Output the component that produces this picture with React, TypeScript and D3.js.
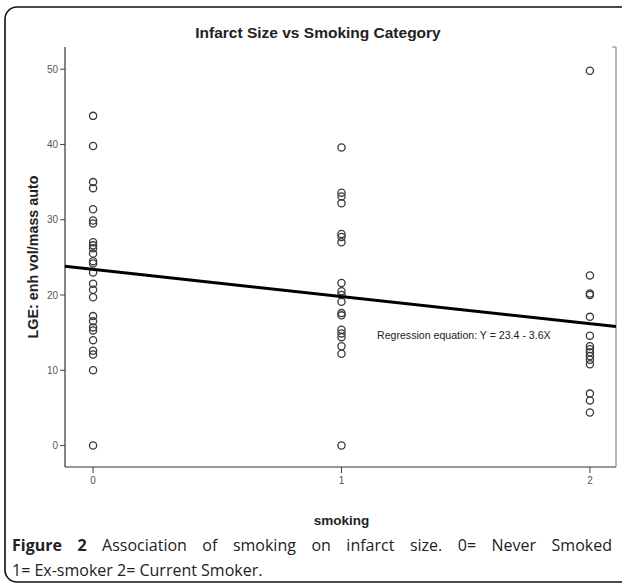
import React, { useLayoutEffect, useRef, useState } from "react";
import * as d3 from "d3";

const smokingCategories = [0, 1, 2];
const neverSmoked = [43.8, 39.8, 35.0, 34.2, 31.4, 29.9, 29.5, 27.0, 26.6, 26.2, 25.5, 24.5, 24.2, 23.0, 21.5, 20.7, 19.7, 17.2, 16.5, 15.7, 15.3, 14.0, 12.6, 12.1, 10.0, 0.0];
const exSmoker = [39.6, 33.6, 33.1, 32.2, 28.1, 27.7, 27.0, 21.6, 20.5, 20.0, 19.1, 17.6, 17.3, 15.4, 14.9, 14.4, 13.2, 12.2, 0.0];
const currentSmoker = [49.8, 22.6, 20.2, 20.0, 17.1, 14.6, 13.2, 12.8, 12.4, 11.9, 11.4, 10.8, 6.9, 6.0, 4.4];
const yTicks = [0, 10, 20, 30, 40, 50];
const regIntercept = 23.4;
const regSlope = -3.6;

export default function App() {
  const W = 622, H = 585;
  const left = 65, right = 616, top = 47, bottom = 467;
  const x = d3.scaleLinear().domain([-0.113, 2.105]).range([left, right]);
  const y = d3.scaleLinear().domain([-2.85, 52.95]).range([bottom, top]);
  const groups = [neverSmoked, exSmoker, currentSmoker];
  const points = groups.flatMap((g, i) => g.map((v) => ({ c: smokingCategories[i], v })));
  const [x0, x1] = x.domain();
  const line = d3.line<number>().x((d) => x(d)).y((d) => y(regIntercept + regSlope * d));
  const axisFont = "'Liberation Sans', Arial, sans-serif";
  const capRef = useRef<SVGTextElement>(null);
  const [ws, setWs] = useState(0);
  useLayoutEffect(() => {
    if (capRef.current && ws === 0) {
      const len = capRef.current.getComputedTextLength();
      setWs(Math.max(0.01, (600 - len) / 10));
    }
  }, [ws]);
  return (
    <svg width={W} height={H} style={{ position: "absolute", left: 0, top: 0, background: "#fff" }}>
      <rect x={5} y={7} width={640} height={575} rx={12} fill="#fff" stroke="#111" strokeWidth={1.6} />
      <text x={318} y={38} textAnchor="middle" fontFamily={axisFont} fontWeight="bold" fontSize={15.5} fill="#222">
        Infarct Size vs Smoking Category
      </text>
      <line x1={left} x2={left} y1={top} y2={bottom} stroke="#333" strokeWidth={1.2} />
      <line x1={left} x2={right} y1={bottom} y2={bottom} stroke="#333" strokeWidth={1.2} />
      <line x1={right} x2={right} y1={top} y2={bottom} stroke="#888" strokeWidth={1.2} />
      <line x1={right - 4} x2={right} y1={top} y2={top} stroke="#888" strokeWidth={1} />
      {yTicks.map((t) => (
        <g key={t}>
          <line x1={left - 5} x2={left} y1={y(t)} y2={y(t)} stroke="#444" strokeWidth={1} />
          <text x={left - 7} y={y(t) + 3.5} textAnchor="end" fontFamily={axisFont} fontSize={10} fill="#555">{t}</text>
        </g>
      ))}
      {smokingCategories.map((c) => (
        <g key={c}>
          <line x1={x(c)} x2={x(c)} y1={bottom} y2={bottom + 6} stroke="#444" strokeWidth={1} />
          <text x={x(c)} y={bottom + 17} textAnchor="middle" fontFamily={axisFont} fontSize={10} fill="#555">{c}</text>
        </g>
      ))}
      <text transform={`translate(38,${(top + bottom) / 2}) rotate(-90)`} textAnchor="middle" fontFamily={axisFont} fontWeight="bold" fontSize={14.3} fill="#222">
        LGE: enh vol/mass auto
      </text>
      <text x={x(1)} y={525} textAnchor="middle" fontFamily={axisFont} fontWeight="bold" fontSize={13.5} fill="#222">smoking</text>
      {points.map((p, i) => (
        <circle key={i} cx={x(p.c)} cy={y(p.v)} r={3.6} fill="none" stroke="#3a3a3a" strokeWidth={1.3} />
      ))}
      <path d={line([x0, x1]) || ""} stroke="#000" strokeWidth={3} fill="none" />
      <text x={377} y={339} fontFamily={axisFont} fontSize={10.6} fill="#222">Regression equation: Y = 23.4 - 3.6X</text>
      <text ref={capRef} x={12} y={551} fontFamily="'Open Sans', sans-serif" fontSize={16} fill="#222" style={{ wordSpacing: ws ? `${ws}px` : undefined }}>
        <tspan fontWeight="bold">Figure 2</tspan> Association of smoking on infarct size. 0= Never Smoked
      </text>
      <text x={12} y={576} fontFamily="'Open Sans', sans-serif" fontSize={16} fill="#222">
        1= Ex-smoker 2= Current Smoker.
      </text>
    </svg>
  );
}
